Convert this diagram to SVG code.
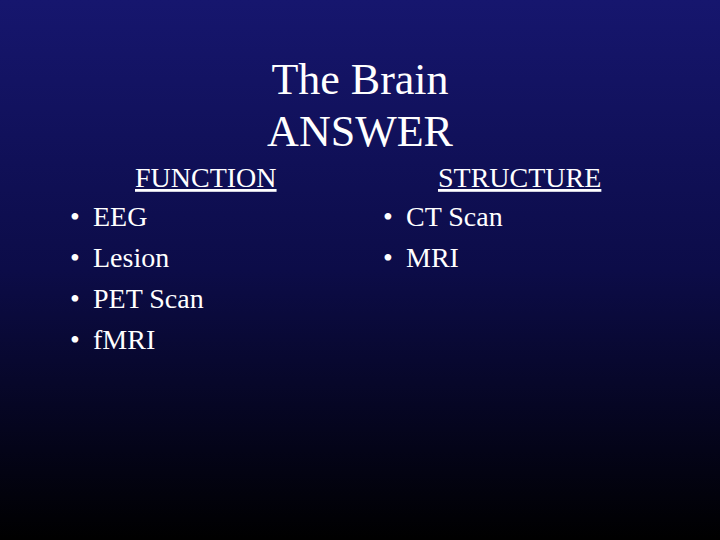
<svg xmlns="http://www.w3.org/2000/svg" width="720" height="540" viewBox="0 0 720 540">
<defs><linearGradient id="bg" x1="0" y1="0" x2="0" y2="1"><stop offset="0" stop-color="#16166e"/><stop offset="0.5" stop-color="#0c0c48"/><stop offset="1" stop-color="#000000"/></linearGradient></defs>
<style>text{font-family:"Liberation Serif","Times New Roman",serif;fill:#fff}.t{font-size:44px;text-anchor:middle}.b{font-size:28px}</style>
<rect width="720" height="540" fill="url(#bg)"/>
<g id="title"><text class="t" x="360" y="94">The Brain</text><text class="t" x="360" y="146">ANSWER</text></g>
<g id="function"><text class="b" x="135" y="187" text-decoration="underline">FUNCTION</text>
<text class="b" x="70" y="226">•</text><text class="b" x="93" y="226">EEG</text>
<text class="b" x="70" y="267">•</text><text class="b" x="93" y="267">Lesion</text>
<text class="b" x="70" y="308">•</text><text class="b" x="93" y="308">PET Scan</text>
<text class="b" x="70" y="349">•</text><text class="b" x="93" y="349">fMRI</text></g>
<g id="structure"><text class="b" x="438" y="187" text-decoration="underline">STRUCTURE</text>
<text class="b" x="383" y="226">•</text><text class="b" x="406" y="226">CT Scan</text>
<text class="b" x="383" y="267">•</text><text class="b" x="406" y="267">MRI</text></g>
</svg>
